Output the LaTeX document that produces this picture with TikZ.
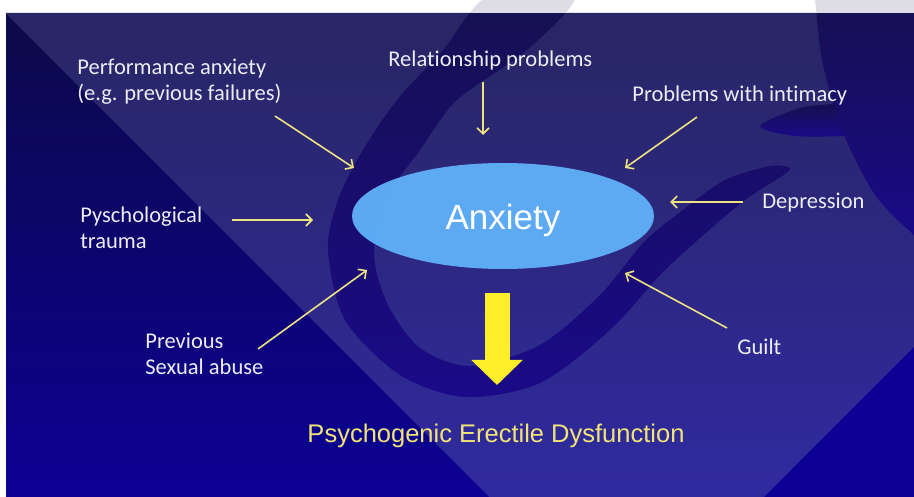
\documentclass[tikz,border=0pt]{standalone}
\usepackage{fontspec}
\setmainfont{Carlito}[Ligatures=NoCommon]
\newfontfamily\arialfont{Liberation Sans}
\usetikzlibrary{shapes.geometric,arrows.meta}
\definecolor{slidetop}{RGB}{40,38,98}
\definecolor{slidebottom}{RGB}{48,42,160}
\definecolor{darktop}{RGB}{12,10,72}
\definecolor{darkbottom}{RGB}{12,0,148}
\definecolor{swooshtop}{RGB}{22,16,80}
\definecolor{swooshbottom}{RGB}{26,10,136}
\definecolor{bubble}{RGB}{96,178,250}
\definecolor{arrowyellow}{RGB}{236,226,130}
\definecolor{bigyellow}{RGB}{255,238,40}
\definecolor{labelwhite}{RGB}{236,236,246}
\definecolor{titleyellow}{RGB}{240,228,120}
\tikzset{
  cause/.style={text=labelwhite,font=\fontsize{22.5}{26}\selectfont,align=left,inner sep=0pt,anchor=base west},
  push/.style={draw=arrowyellow,line width=1.6pt,-{Straight Barb[length=6pt,width=12pt]}},
  drop/.style={draw=bigyellow,line width=25pt,-{Triangle[length=25pt,width=50pt]}},
  swoosh/.style={top color=swooshtop,bottom color=swooshbottom}}

\begin{document}
\begin{tikzpicture}[x=1pt,y=-1pt,thick]
\useasboundingbox (0,0) rectangle (914,497);
\fill[white] (0,0) rectangle (914,497);
\begin{scope}
\clip (6,13) rectangle (914,497);
\shade[top color=slidetop,bottom color=slidebottom] (0,0) rectangle (914,497);
\shade[top color=darktop,bottom color=darkbottom] (0,8) -- (489,497) -- (0,497) -- cycle;
\fill[darkbottom] (914,347) -- (764,497) -- (914,497) -- cycle;
\end{scope}
\shade[swoosh] plot[smooth cycle] coordinates {(490,-5) (443,50) (397,100) (363,150) (338,200) (328,250) (345,320) (400,375) (465,397) (540,383) (610,330) (660,275) (700,238) (745,200) (782,176) (790,168) (770,166) (725,180) (683,210) (644,242) (600,295) (540,345) (470,366) (420,348) (388,305) (374,255) (385,200) (420,150) (457,100) (527,50) (575,-5)};
\shade[swoosh] plot[smooth] coordinates {(815,-5) (822,60) (842,130) (875,195) (914,235)} -- (914,-5) -- cycle;
\shade[swoosh] plot[smooth] coordinates {(835,104) (800,108) (760,126) (795,136) (845,136)} -- cycle;
\fill[white,opacity=0.86] (0,0) rectangle (914,13);

\node[ellipse,fill=bubble,fill opacity=0.95,text opacity=1,minimum width=302pt,minimum height=106pt,text=white,font=\arialfont\fontsize{35}{40}\selectfont,text height=31pt,text depth=3pt] (anxiety) at (503,216) {Anxiety};

\node[cause] (perf) at (77,101) {Performance anxiety\\(e.g. previous failures)};
\node[cause] (rel) at (388,67) {Relationship problems};
\node[cause] (intim) at (632,102) {Problems with intimacy};
\node[cause] (trauma) at (80,249) {Pyschological\\trauma};
\node[cause] (depr) at (762,209) {Depression};
\node[cause] (abuse) at (145,374) {Previous\\Sexual abuse};
\node[cause] (guilt) at (737,355) {Guilt};
\node[text=titleyellow,font=\arialfont\fontsize{25.5}{30}\selectfont,inner sep=0pt,anchor=base] (ed) at (496,442) {Psychogenic Erectile Dysfunction};

\coordinate (perf-a) at (275,116);
\coordinate (perf-b) at (354,168);
\coordinate (rel-a) at (483,82);
\coordinate (rel-b) at (483,135);
\coordinate (intim-a) at (697,117);
\coordinate (intim-b) at (625,168);
\coordinate (depr-a) at (743,202);
\coordinate (depr-b) at (670,202);
\coordinate (trauma-a) at (232,220);
\coordinate (trauma-b) at (313,220);
\coordinate (abuse-a) at (258,349);
\coordinate (abuse-b) at (367,270);
\coordinate (guilt-a) at (727,328);
\coordinate (guilt-b) at (625,273);
\coordinate (drop-a) at (497,293);
\coordinate (drop-b) at (497,385);

\draw[push] (perf-a) -- (perf-b);
\draw[push] (rel-a) -- (rel-b);
\draw[push] (intim-a) -- (intim-b);
\draw[push] (depr-a) -- (depr-b);
\draw[push] (trauma-a) -- (trauma-b);
\draw[push] (abuse-a) -- (abuse-b);
\draw[push] (guilt-a) -- (guilt-b);
\draw[drop] (drop-a) -- (drop-b);
\end{tikzpicture}
\end{document}
